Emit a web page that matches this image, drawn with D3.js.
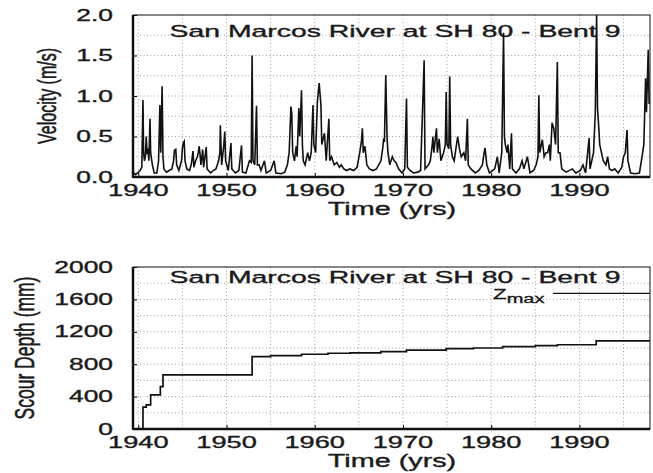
<!DOCTYPE html>
<html><head><meta charset="utf-8">
<script src="https://cdn.jsdelivr.net/npm/d3@7"></script>
<style>body{margin:0;background:#fff}svg{display:block}text{font-family:"Liberation Sans",Arial,sans-serif;fill:#1a1a1a;stroke:#1a1a1a;stroke-width:0.35px}</style>
</head><body><svg id="c" width="653" height="473"></svg>
<script>
const chartTitle = "San Marcos River at SH 80 - Bent 9";
const xLabel = "Time (yrs)";
const velLabel = "Velocity (m/s)";
const scourLabel = "Scour Depth (mm)";
const yearTicks = [1940, 1950, 1960, 1970, 1980, 1990];
const velTicks = [0, 0.5, 1.0, 1.5, 2.0];
const scourTicks = [0, 400, 800, 1200, 1600, 2000];

// velocity peaks (year, m/s)
const velTime = [1939.5,1939.7,1940.2,1940.4,1940.53,1940.6,1940.7,1940.8,1940.9,1941.0,1941.1,1941.2,1941.33,1941.4,1941.5,1941.6,1941.7,1941.8,1942.1,1942.3,1942.45,1942.55,1942.7,1942.8,1942.9,1943.2,1943.5,1943.8,1944.0,1944.1,1944.25,1944.35,1944.6,1944.9,1945.0,1945.1,1945.2,1945.3,1945.5,1945.8,1946.0,1946.2,1946.3,1946.5,1946.7,1946.8,1946.9,1947.0,1947.1,1947.3,1947.4,1947.7,1947.8,1948.2,1948.5,1948.8,1949.1,1949.25,1949.3,1949.45,1949.7,1949.8,1949.9,1950.2,1950.5,1950.6,1951.0,1951.4,1951.7,1951.8,1952.2,1952.6,1952.8,1952.9,1953.0,1953.2,1953.4,1953.5,1953.7,1953.9,1954.3,1954.5,1955.0,1955.4,1955.6,1956.2,1956.6,1956.9,1957.1,1957.3,1957.4,1957.5,1957.7,1957.9,1958.0,1958.2,1958.3,1958.5,1958.6,1958.7,1958.9,1959.2,1959.4,1959.6,1959.8,1959.9,1960.1,1960.3,1960.5,1960.7,1960.8,1961.1,1961.3,1961.6,1961.7,1961.9,1962.2,1962.5,1962.8,1963.0,1963.3,1963.6,1964.0,1964.4,1964.8,1965.1,1965.3,1965.4,1965.5,1965.7,1965.9,1966.2,1966.6,1967.0,1967.5,1967.7,1967.8,1967.9,1968.05,1968.2,1968.3,1968.5,1968.8,1969.0,1969.2,1969.5,1969.9,1970.2,1970.4,1970.5,1970.8,1971.2,1971.7,1972.0,1972.4,1972.5,1972.9,1973.1,1973.3,1973.4,1973.5,1973.8,1973.9,1974.1,1974.3,1974.6,1974.8,1974.9,1975.0,1975.2,1975.3,1975.4,1975.6,1975.8,1976.0,1976.2,1976.4,1976.6,1976.9,1977.1,1977.3,1977.4,1977.7,1978.2,1978.6,1979.0,1979.2,1979.3,1979.5,1979.8,1980.4,1980.7,1980.9,1981.2,1981.4,1981.5,1981.6,1981.8,1981.9,1982.1,1982.3,1982.4,1982.8,1983.2,1983.5,1983.7,1984.1,1984.4,1984.8,1985.1,1985.3,1985.4,1985.5,1985.8,1986.0,1986.2,1986.4,1986.6,1986.7,1986.9,1987.1,1987.3,1987.5,1987.6,1987.8,1988.0,1988.5,1989.2,1989.6,1990.1,1990.4,1990.7,1991.1,1991.2,1991.6,1991.8,1991.95,1992.05,1992.2,1992.3,1992.5,1992.7,1993.0,1993.2,1993.4,1993.7,1994.0,1994.4,1994.8,1995.0,1995.2,1995.4,1995.5,1995.8,1996.3,1996.8,1997.1,1997.3,1997.5,1997.6,1997.8,1997.9];
const velValue = [0.05,0.03,0.08,0.12,0.95,0.3,0.2,0.25,0.5,0.28,0.35,0.2,0.72,0.3,0.22,0.15,0.1,0.05,0.05,0.2,0.89,0.3,1.12,0.25,0.1,0.06,0.08,0.1,0.2,0.33,0.34,0.15,0.08,0.2,0.36,0.42,0.44,0.2,0.1,0.08,0.15,0.32,0.12,0.2,0.25,0.3,0.38,0.28,0.15,0.34,0.12,0.37,0.1,0.05,0.08,0.1,0.2,0.3,0.64,0.15,0.4,0.56,0.2,0.08,0.42,0.1,0.05,0.08,0.39,0.06,0.05,0.2,0.18,1.5,0.2,0.15,0.88,0.15,0.15,0.08,0.2,0.05,0.08,0.2,0.05,0.04,0.06,0.15,0.3,0.87,0.78,0.3,0.2,0.38,0.25,0.85,0.5,1.07,0.4,0.2,0.15,0.3,0.2,0.3,0.89,0.4,0.3,0.93,1.16,0.89,0.4,0.54,0.2,0.72,0.2,0.25,0.15,0.18,0.12,0.15,0.1,0.08,0.1,0.08,0.12,0.3,0.45,0.6,0.3,0.38,0.15,0.1,0.08,0.1,0.2,0.35,0.46,0.45,1.26,0.48,0.3,0.15,0.25,0.2,0.18,0.1,0.05,0.1,0.97,0.12,0.08,0.05,0.06,0.08,1.44,0.1,0.15,0.2,0.38,0.5,0.3,0.6,0.3,0.47,0.2,0.3,0.4,1.05,0.4,0.35,1.24,0.4,0.25,0.2,0.35,0.5,0.35,0.25,0.3,0.2,0.72,0.15,0.1,0.05,0.08,0.15,0.3,0.36,0.15,0.05,0.1,0.25,0.05,0.3,1.78,0.5,0.4,0.3,0.4,0.1,0.54,0.1,0.05,0.1,0.2,0.1,0.25,0.05,0.08,0.15,0.25,1.01,0.3,0.46,0.25,0.3,0.3,0.4,0.2,0.67,0.6,0.4,1.42,0.3,0.3,0.1,0.06,0.1,0.05,0.08,0.15,0.05,0.48,0.1,0.3,0.8,2.0,0.85,0.6,0.4,0.3,0.2,0.15,0.25,0.1,0.08,0.1,0.05,0.12,0.25,0.3,0.58,0.2,0.05,0.04,0.05,0.25,0.4,1.22,0.8,1.57,0.9];

// scour depth steps (year, mm)
const scourTime  = [1939.4, 1940.53, 1940.9, 1941.4, 1942.5, 1942.8, 1952.9, 1955.0, 1958.5, 1961.5, 1964.0, 1967.5, 1970.4, 1974.9, 1978.0, 1981.3, 1985.0, 1987.5, 1991.9, 1998.0];
const scourDepth = [0, 271, 299, 422, 524, 668, 894, 905, 923, 935, 940, 955, 975, 992, 1000, 1017, 1030, 1040, 1087, 1087];
const zmaxValue = 1674;
const zmaxStart = 1987.0;

const svg = d3.select("#c");
const SX = 1.6;
const L = 133, R = 650;
const x = d3.scaleLinear().domain([1939.4, 1998.0]).range([L, R]);
const yV = d3.scaleLinear().domain([0, 2]).range([177, 15]);
const yS = d3.scaleLinear().domain([0, 2000]).range([429, 267]);

function stretchedText(g, tx, ty, str, size, anchor, rot, sx) {
  return g.append("text")
    .attr("transform", `translate(${tx},${ty}) scale(${sx || SX},1)` + (rot ? " rotate(-90)" : ""))
    .attr("text-anchor", anchor).attr("font-size", size)
    .attr("dy", rot ? "0.35em" : null)
    .text(str);
}

function panel(y, ticks, gridStep, fmt, labelTxt, labelX, labelSize, titleDy) {
  const [y0, y1] = y.domain();
  const top = y.range()[1], bot = y.range()[0];
  const g = svg.append("g");
  const gx = d3.range(1940, 1998, 5);
  const gy = d3.range(y0 + gridStep, y1, gridStep);
  g.selectAll(".gv").data(gx).join("line")
    .attr("x1", d => x(d)).attr("x2", d => x(d)).attr("y1", top).attr("y2", bot)
    .attr("stroke", "#8a8a8a").attr("stroke-width", 0.8).attr("stroke-dasharray", "1,2.5");
  g.selectAll(".gh").data(gy).join("line")
    .attr("x1", L).attr("x2", R).attr("y1", d => y(d)).attr("y2", d => y(d))
    .attr("stroke", "#8a8a8a").attr("stroke-width", 0.8).attr("stroke-dasharray", "1,2.5");
  const ay = g.append("g").attr("transform", `translate(${L},0)`)
    .call(d3.axisRight(y).tickValues(ticks).tickSize(4).tickFormat(""));
  ay.select(".domain").remove();
  const ax = g.append("g").attr("transform", `translate(0,${bot})`)
    .call(d3.axisTop(x).tickValues(yearTicks).tickSize(4).tickFormat(""));
  ax.select(".domain").remove();
  ticks.forEach(t => stretchedText(g, 113, y(t), fmt(t), 16.5, "end", false).attr("dy", "0.34em"));
  yearTicks.forEach(t => stretchedText(g, x(t), bot + 19, String(t), 17, "middle", false));
  stretchedText(g, 392, bot + 38, xLabel, 18, "middle", false);
  stretchedText(g, labelX, (top + bot) / 2, labelTxt, labelSize, "middle", true);
  stretchedText(g, 395, top + titleDy, chartTitle, 17, "middle", false, 1.67);
  g.append("rect").attr("x", L).attr("y", top).attr("width", R - L).attr("height", bot - top)
    .attr("fill", "none").attr("stroke", "#111").attr("stroke-width", 1);
  g.append("line").attr("x1", L).attr("x2", L).attr("y1", top).attr("y2", bot + 1).attr("stroke", "#111").attr("stroke-width", 2.5);
  g.append("line").attr("x1", L).attr("x2", R).attr("y1", bot).attr("y2", bot).attr("stroke", "#111").attr("stroke-width", 2.5);
  return g;
}

panel(yV, velTicks, 0.25, d => d.toFixed(1), velLabel, 47, 16, 22);
panel(yS, scourTicks, 200, d => String(d), scourLabel, 24, 17.5, 16);

svg.append("clipPath").attr("id", "cv").append("rect").attr("x", L).attr("y", 15).attr("width", R - L).attr("height", 162);
const velData = velTime.map((t, i) => [t, velValue[i]]);
svg.append("path").attr("clip-path", "url(#cv)")
  .datum(velData)
  .attr("d", d3.line().x(d => x(d[0])).y(d => yV(d[1])))
  .attr("fill", "none").attr("stroke", "#111").attr("stroke-width", 1.6).attr("stroke-linejoin", "miter");

const scourData = scourTime.map((t, i) => [t, scourDepth[i]]);
svg.append("path").datum(scourData)
  .attr("d", d3.line().curve(d3.curveStepAfter).x(d => x(d[0])).y(d => yS(d[1])))
  .attr("fill", "none").attr("stroke", "#111").attr("stroke-width", 1.7);

svg.append("line").attr("x1", x(zmaxStart)).attr("x2", R).attr("y1", yS(zmaxValue)).attr("y2", yS(zmaxValue))
  .attr("stroke", "#111").attr("stroke-width", 1.2);
const zt = svg.append("text").attr("transform", `translate(493,299) scale(${SX},1)`).attr("font-size", 14);
zt.append("tspan").text("Z");
zt.append("tspan").attr("font-size", 12.5).attr("dy", 4).text("max");
</script></body></html>
